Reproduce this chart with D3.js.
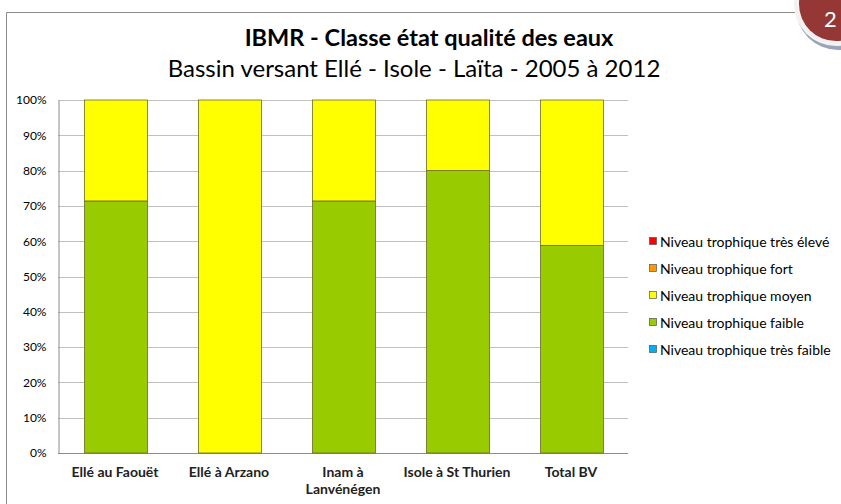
<!DOCTYPE html>
<html><head><meta charset="utf-8">
<script src="https://cdn.jsdelivr.net/npm/d3@7"></script>
<style>body{margin:0;background:#fff;}svg{display:block;font-family:Lato,"Open Sans",sans-serif;}</style>
</head><body>
<svg id="c" width="841" height="504"></svg>
<script>
const categories = ["Ellé au Faouët","Ellé à Arzano","Inam à\nLanvénégen","Isole à St Thurien","Total BV"];
const seriesNames = ["Niveau trophique très faible","Niveau trophique faible","Niveau trophique moyen","Niveau trophique fort","Niveau trophique très élevé"];
const seriesColors = ["#00b0f0","#99cc00","#ffff00","#ff9900","#ff0000"];
const tresFaible = [0,0,0,0,0];
const faible = [71.4,0,71.4,80,58.8];
const moyen = [28.6,100,28.6,20,41.2];
const fort = [0,0,0,0,0];
const tresEleve = [0,0,0,0,0];
const yTicks = [0,10,20,30,40,50,60,70,80,90,100];

const svg = d3.select("#c");
const series = [tresFaible, faible, moyen, fort, tresEleve];
const rows = categories.map((c,i)=>{const o={cat:c}; seriesNames.forEach((s,j)=>o[s]=series[j][i]); return o;});
const stack = d3.stack().keys(seriesNames)(rows);

const x = d3.scaleBand().domain(categories).range([58,628]).paddingInner(0.45).paddingOuter(0.225);
const y = d3.scaleLinear().domain([0,100]).range([453,100]);

// frame
svg.append("path").attr("d","M6.5,504 V12.5 H800").attr("fill","none").attr("stroke","#8c8c8c").attr("stroke-width",1);

// gridlines
svg.append("g").selectAll("line").data(yTicks).join("line")
  .attr("x1",58).attr("x2",628).attr("y1",d=>Math.round(y(d))+0.5).attr("y2",d=>Math.round(y(d))+0.5)
  .attr("stroke","#c0c0c0");
// y axis
const ya = svg.append("g").attr("transform","translate(58.5,0)")
  .call(d3.axisLeft(y).tickValues(yTicks).tickFormat(d=>d+"%").tickSize(0).tickPadding(12));
ya.select(".domain").attr("stroke","#8c8c8c");
ya.selectAll("text").attr("font-size",12).attr("fill","#000").attr("font-family","Lato,sans-serif");
svg.append("line").attr("x1",58).attr("x2",628).attr("y1",453.5).attr("y2",453.5).attr("stroke","#8c8c8c");

// bars
svg.append("g").selectAll("g").data(stack).join("g")
  .attr("fill",(d,i)=>seriesColors[i])
  .selectAll("rect").data(d=>d.filter(e=>e[1]-e[0]>0)).join("rect")
  .attr("x",d=>Math.round(x(d.data.cat))+0.5).attr("width",Math.round(x.bandwidth()))
  .attr("y",d=>y(d[1])).attr("height",d=>y(d[0])-y(d[1]))
  .attr("stroke","#6b6b2a").attr("stroke-width",0.8);

// x labels
const xl = svg.append("g");
categories.forEach(c=>{
  const lines=c.split("\n");
  const t=xl.append("text").attr("x",x(c)+x.bandwidth()/2).attr("y",477).attr("text-anchor","middle")
    .attr("font-size",14).attr("font-weight","bold").attr("fill","#222");
  lines.forEach((l,i)=>t.append("tspan").attr("x",x(c)+x.bandwidth()/2).attr("dy",i?17:0).text(l));
});

// titles
svg.append("text").attr("x",429).attr("y",46).attr("text-anchor","middle").attr("font-size",23.5).attr("font-weight","bold").attr("fill","#000").text("IBMR - Classe état qualité des eaux");
svg.append("text").attr("x",414).attr("y",77).attr("text-anchor","middle").attr("font-size",24).attr("fill","#000").text("Bassin versant Ellé - Isole - Laïta - 2005 à 2012");

// legend
const legOrder = seriesNames.slice().reverse();
const leg = svg.append("g");
legOrder.forEach((s,i)=>{
  const yy = 242+i*27;
  leg.append("rect").attr("x",649.5).attr("y",yy-4.5).attr("width",7).attr("height",7)
    .attr("fill",seriesColors[seriesNames.indexOf(s)]).attr("stroke","#555").attr("stroke-width",0.7);
  leg.append("text").attr("x",660).attr("y",yy+4.5).attr("font-size",14).attr("fill","#000").text(s);
});

// badge
const b = svg.append("g");
b.append("circle").attr("cx",838).attr("cy",8).attr("r",42).attr("fill","#9aa6b8");
b.append("circle").attr("cx",836).attr("cy",4).attr("r",42).attr("fill","#f2f2f2");
b.append("circle").attr("cx",836).attr("cy",4).attr("r",37).attr("fill","#953735");
b.append("text").attr("x",824).attr("y",27).attr("font-size",22).attr("fill","#fff").text("2");
</script>
</body></html>
